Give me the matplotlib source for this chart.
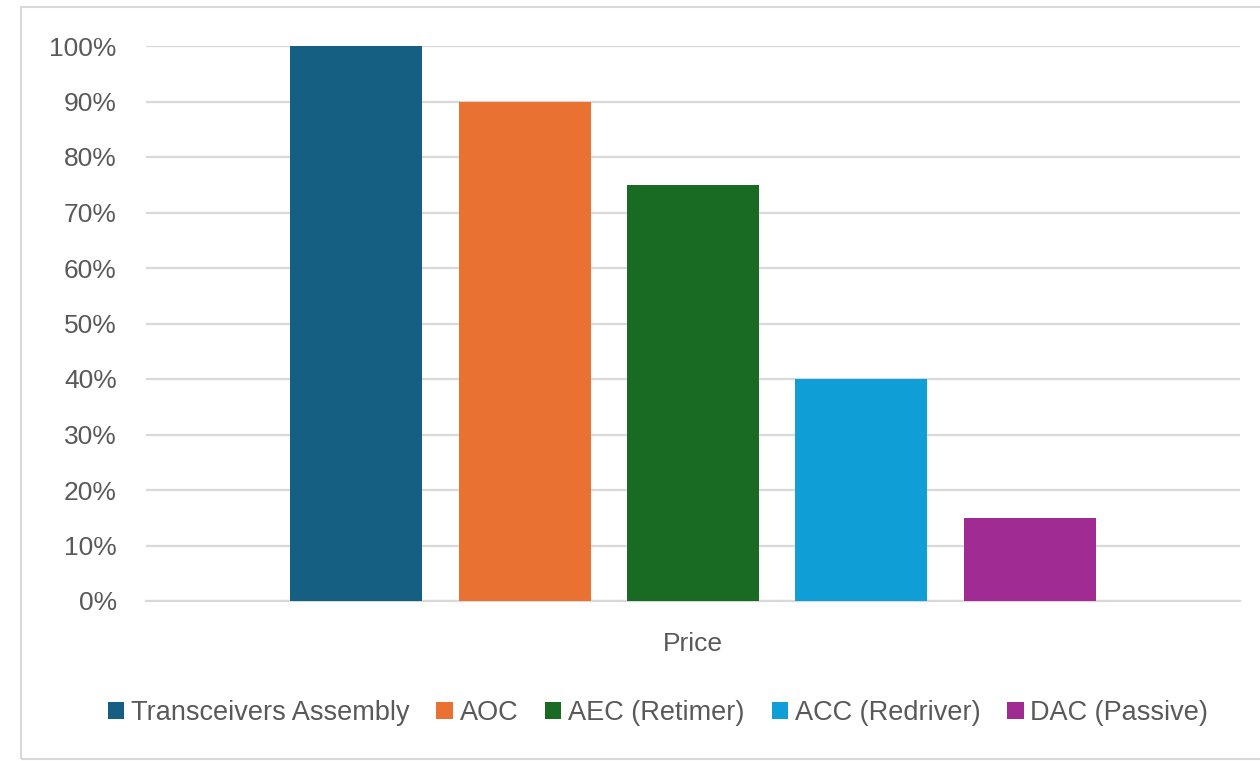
import matplotlib.pyplot as plt
import matplotlib.patches as mpatches
from matplotlib.ticker import FuncFormatter

# data
series = ['Transceivers Assembly', 'AOC', 'AEC (Retimer)', 'ACC (Redriver)', 'DAC (Passive)']
values = [100, 90, 75, 40, 15]
colors = ['#156082', '#E97132', '#196B24', '#0F9ED5', '#A02B93']
category = 'Price'

plt.rcParams['font.family'] = ['Liberation Sans', 'DejaVu Sans']
txt = '#595959'

fig = plt.figure(figsize=(12.6, 7.61), dpi=100)
ax = fig.add_axes([146/1260, 160/761, 1094/1260, 555/761])

# chart border (right edge cut off like the screenshot)
fig.patches.append(mpatches.Rectangle((21/1260, 2/761), 1.1, 752/761, transform=fig.transFigure,
                                      fill=False, edgecolor='#d9d9d9', linewidth=1.5))

n = len(values)
for i in range(n):
    ax.bar(i - (n - 1) / 2, values[i], width=0.784, color=colors[i], label=series[i], zorder=3)

ax.set_xlim(-3.248, 3.248)
ax.set_ylim(0, 100)
ax.set_yticks(range(0, 101, 10))
ax.yaxis.set_major_formatter(FuncFormatter(lambda v, p: '%d%%' % v))
ax.grid(axis='y', color='#d9d9d9', linewidth=1.6, zorder=0)
ax.tick_params(axis='y', length=0, pad=21, labelsize=19, labelcolor=txt)
ax.set_xticks([0])
ax.set_xticklabels([category])
ax.tick_params(axis='x', length=0, pad=22, labelsize=19, labelcolor=txt)
for s in ['top', 'right', 'left']:
    ax.spines[s].set_visible(False)
ax.spines['bottom'].set_color('#d9d9d9')
ax.spines['bottom'].set_linewidth(1.6)

fig.legend(loc='center', bbox_to_anchor=(658/1260, 1 - 713/761), ncol=5, frameon=False,
           fontsize=19.5, labelcolor=txt, handlelength=0.6, handleheight=0.6,
           handletextpad=0.25, columnspacing=1.0)

fig.savefig('out.png', dpi=100, facecolor='white')
